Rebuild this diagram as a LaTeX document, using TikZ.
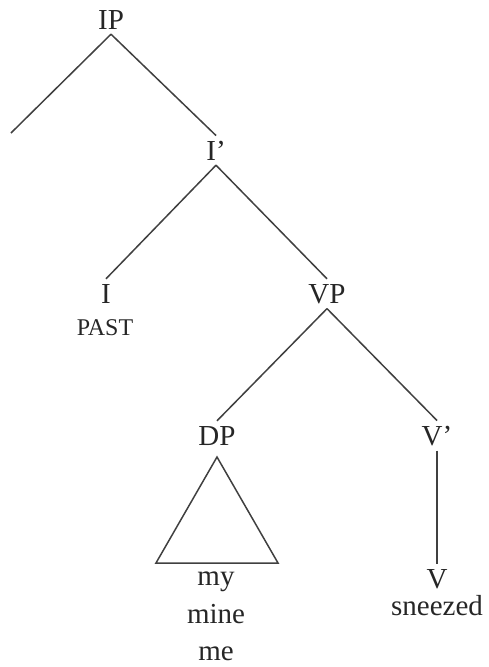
\documentclass[tikz,border=0pt]{standalone}
\usepackage{fontspec}
\setmainfont{Liberation Serif}
\begin{document}
\begin{tikzpicture}[x=1pt,y=-1pt,
  lbl/.style={anchor=base,inner xsep=0pt,inner ysep=5pt,text=black!85,font=\fontsize{29}{30}\selectfont},
  sub/.style={anchor=base,inner sep=0pt,text=black!85,font=\fontsize{29}{30}\selectfont},
  small/.style={anchor=base,inner sep=0pt,text=black!85,font=\fontsize{24}{26}\selectfont},
  br/.style={draw=black!75,line width=1.5pt}]
\useasboundingbox (0,0) rectangle (489,667);
\node[lbl] (IP) at (111,29) {IP};
\node[lbl] (Ibar) at (216,160) {I’};
\node[lbl] (I) at (106,303) {I};
\node[small] (past) at (105,335) {PAST};
\node[lbl] (VP) at (327,303) {VP};
\node[lbl] (DP) at (217,445) {DP};
\node[lbl] (Vbar) at (437,445) {V’};
\node[lbl] (V) at (437,588) {V};
\node[sub] (sneezed) at (437,615) {sneezed};
\node[sub] (my) at (216,585) {my};
\node[sub] (mine) at (216,623) {mine};
\node[sub] (me) at (216,660) {me};
\coordinate (spec) at (11,133);
\coordinate (triTop) at (217,457);
\coordinate (triL) at (156,563);
\coordinate (triR) at (278,563);
\draw[br] (IP.south) -- (spec);
\draw[br] (IP.south) -- (Ibar.north);
\draw[br] (Ibar.south) -- (I.north);
\draw[br] (Ibar.south) -- (VP.north);
\draw[br] (VP.south) -- (DP.north);
\draw[br] (VP.south) -- (Vbar.north);
\draw[br] (Vbar.south) -- (V.north);
\draw[br,line join=miter] (triTop) -- (triR) -- (triL) -- cycle;
\end{tikzpicture}
\end{document}
